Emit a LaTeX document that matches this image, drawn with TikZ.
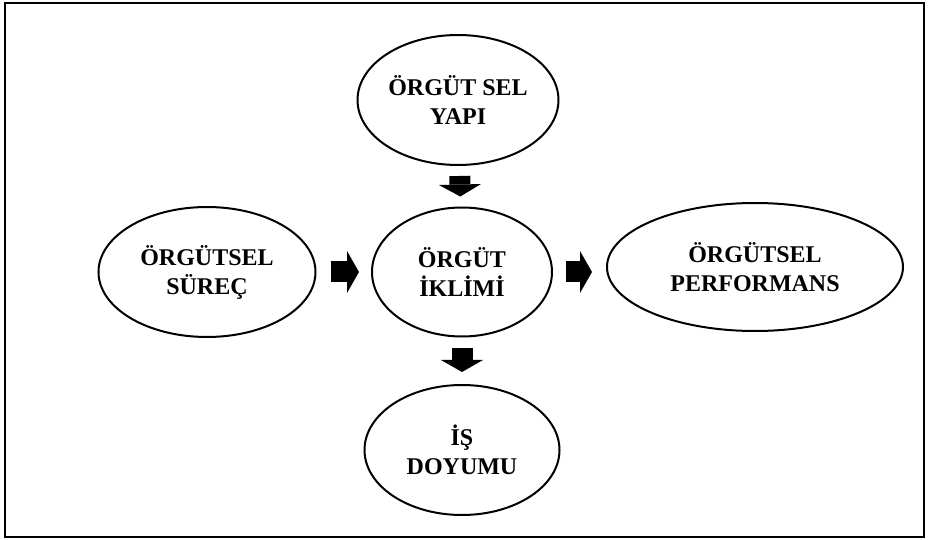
\documentclass[tikz,border=0pt]{standalone}
\usepackage{fontspec}
\setmainfont{Liberation Serif}
\usetikzlibrary{arrows.meta,shapes.geometric}
\tikzstyle{climate} = [align=center,draw=black,ellipse,line width=2pt,inner sep=0pt,font=\bfseries\fontsize{24}{29}\selectfont]
\tikzstyle{fat} = [line width=21pt,-{Triangle[length=12pt,width=42pt,line width=0pt]}]

\begin{document}
\begin{tikzpicture}[x=1pt,y=-1pt]
				\useasboundingbox (0,0) rectangle (930,540);
				\draw [line width=1.5pt] (5,3) rectangle (924,537);
				\node (yapi) [climate,minimum width=201pt,minimum height=130pt] at (458,100) {ÖRGÜT SEL\\YAPI};
				\node (iklim) [climate,minimum width=180pt,minimum height=129pt] at (462,272) {ÖRGÜT\\İKLİMİ};
				\node (surec) [climate,minimum width=217pt,minimum height=130pt] at (207,272) {ÖRGÜTSEL\\SÜREÇ};
				\node (perf) [climate,minimum width=296pt,minimum height=128pt] at (755,267) {ÖRGÜTSEL\\PERFORMANS};
				\node (doyum) [climate,minimum width=195pt,minimum height=130pt] at (462,450) {İŞ\\DOYUMU};
				\draw [fat,shorten <=10pt,shorten >=10pt] (yapi) -- (iklim);
				\draw [fat,shorten <=14pt,shorten >=12pt] (surec) -- (iklim);
				\draw [fat,shorten <=13pt,shorten >=14pt] (iklim.east) -- (perf.west |- iklim.east);
				\draw [fat,shorten <=11pt,shorten >=12pt] (iklim) -- (doyum);
			\end{tikzpicture}
\end{document}
